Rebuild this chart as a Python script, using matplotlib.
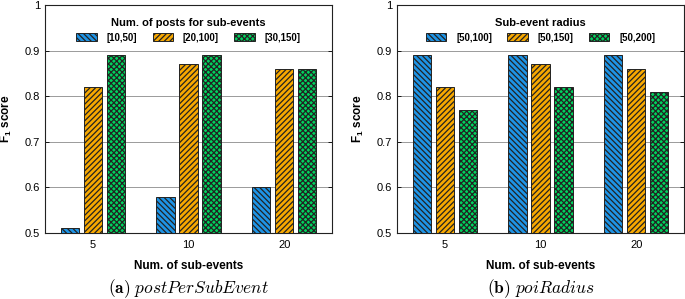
import numpy as np
import matplotlib
matplotlib.use("Agg")
import matplotlib.pyplot as plt

# Dados
grupos = ["5", "10", "20"]

rotulos_a = ["[10,50]", "[20,100]", "[30,150]"]
posts_10_50 = [0.51, 0.58, 0.60]
posts_20_100 = [0.82, 0.87, 0.86]
posts_30_150 = [0.89, 0.89, 0.86]

rotulos_b = ["[50,100]", "[50,150]", "[50,200]"]
raio_50_100 = [0.89, 0.89, 0.89]
raio_50_150 = [0.82, 0.87, 0.86]
raio_50_200 = [0.77, 0.82, 0.81]

cores = ["#1e94e6", "#f7a800", "#00d35e"]
hachuras = ["\\\\\\\\\\\\", "//////", "xxxxxx"]

plt.rcParams["font.family"] = ["Liberation Sans", "DejaVu Sans"]
plt.rcParams["mathtext.fontset"] = "custom"
plt.rcParams["mathtext.rm"] = "Liberation Sans"
plt.rcParams["mathtext.bf"] = "Liberation Sans:bold"
plt.rcParams["hatch.linewidth"] = 0.9


def desenhar_painel(ax, series, rotulos, titulo_legenda):
    x = np.arange(len(grupos))
    largura = 0.19
    passo = 0.24
    for i, valores in enumerate(series):
        ax.bar(x + (i - 1) * passo, np.array(valores) - 0.5, largura, bottom=0.5,
               color=cores[i], edgecolor="#222222", linewidth=0.7,
               hatch=hachuras[i], label=rotulos[i], zorder=3)
    ax.set_xlim(-0.5, 2.5)
    ax.set_ylim(0.5, 1.0)
    ax.set_xticks(x)
    ax.set_xticklabels(grupos)
    ax.set_yticks([0.5, 0.6, 0.7, 0.8, 0.9, 1.0])
    ax.set_yticklabels(["0.5", "0.6", "0.7", "0.8", "0.9", "1"])
    ax.tick_params(axis="both", labelsize=8, direction="in", length=3,
                   right=True, top=False, width=0.6)
    ax.tick_params(axis="x", length=0, pad=5)
    ax.grid(axis="y", color="#9a9a9a", linewidth=0.7, zorder=0)
    for s in ax.spines.values():
        s.set_linewidth(0.8)
        s.set_color("#222222")
    ax.set_xlabel("Num. of sub-events", fontsize=8.5, fontweight="bold", labelpad=7)
    ax.set_ylabel(r"F$_\mathbf{1}$ score", fontsize=8.5, fontweight="bold", labelpad=8)
    leg = ax.legend(loc="upper center", bbox_to_anchor=(0.5, 0.97), ncol=3,
                    frameon=False, title=titulo_legenda,
                    prop={"size": 7, "weight": "bold"},
                    title_fontproperties={"size": 8, "weight": "bold"},
                    handlelength=2.1, handleheight=0.9, columnspacing=1.6,
                    handletextpad=1.0, borderaxespad=0.2)
    return leg


fig = plt.figure(figsize=(6.85, 2.99), dpi=100)
ax_a = fig.add_axes([0.0657, 0.2207, 0.419, 0.7626])
ax_b = fig.add_axes([0.5796, 0.2207, 0.419, 0.7626])

desenhar_painel(ax_a, [posts_10_50, posts_20_100, posts_30_150], rotulos_a,
                "Num. of posts for sub-events")
desenhar_painel(ax_b, [raio_50_100, raio_50_150, raio_50_200], rotulos_b,
                "Sub-event radius")

fig.text(0.275, 0.02, r"$\mathbf{(a)}\ postPerSubEvent$", ha="center", fontsize=12.5,
         math_fontfamily="cm")
fig.text(0.79, 0.02, r"$\mathbf{(b)}\ poiRadius$", ha="center", fontsize=12.5,
         math_fontfamily="cm")

fig.savefig("out.png", dpi=100)
